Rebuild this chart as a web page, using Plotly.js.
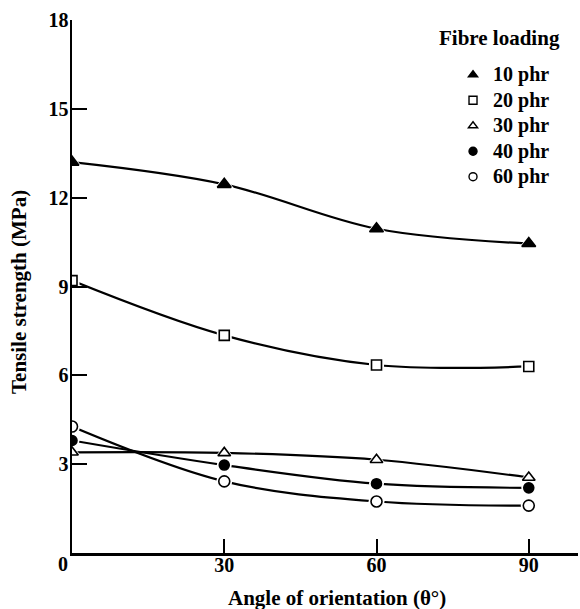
<!DOCTYPE html>
<html><head><meta charset="utf-8">
<script src="https://cdn.plot.ly/plotly-3.0.1.min.js"></script>
<style>html,body{margin:0;padding:0;background:#fff}</style>
</head><body><div id="chart" style="width:580px;height:609px"></div>
<script>
const angles = [0, 30, 60, 90];
const seriesNames = ['10 phr', '20 phr', '30 phr', '40 phr', '60 phr'];
const phr10 = [13.2, 12.45, 10.95, 10.45];
const phr20 = [9.2, 7.35, 6.35, 6.3];
const phr30 = [3.4, 3.38, 3.15, 2.55];
const phr40 = [3.8, 2.97, 2.34, 2.2];
const phr60 = [4.27, 2.42, 1.74, 1.6];
const xTicks = [30, 60, 90];
const yTicks = [3, 6, 9, 12, 15, 18];

const FONT = 'Liberation Serif, Times New Roman, serif';
const values = [phr10, phr20, phr30, phr40, phr60];
const symbols = ['triangle-up', 'square', 'triangle-up', 'circle', 'circle'];
const fills = ['#000', '#fff', '#fff', '#000', '#fff'];
const sizes = [12, 10, 11, 10, 11];

const traces = [];
values.forEach((v, i) => {
  traces.push({x: angles, y: v, mode: 'lines', line: {color: '#000', width: 2.2, shape: 'spline', smoothing: 1},
    showlegend: false, hoverinfo: 'skip'});
});
values.forEach((v, i) => {
  traces.push({x: angles, y: v, mode: 'markers', showlegend: false,
    marker: {symbol: symbols[i], size: sizes[i] + 5, color: '#fff', line: {width: 0}}, hoverinfo: 'skip'});
});
values.forEach((v, i) => {
  traces.push({x: angles, y: v, mode: 'markers', name: seriesNames[i], showlegend: false,
    marker: {symbol: symbols[i], size: sizes[i], color: fills[i], line: {color: '#000', width: 1.6}}});
});
seriesNames.forEach((n, i) => {
  traces.push({x: [null], y: [null], mode: 'markers', name: '<span style="font-size:20px">' + n + '</span>', showlegend: true,
    marker: {symbol: symbols[i], size: 8, color: fills[i], line: {color: '#000', width: 1.4}}});
});

const layout = {
  width: 580, height: 609,
  margin: {l: 72, r: 2, t: 20, b: 56},
  paper_bgcolor: '#fff', plot_bgcolor: '#fff',
  font: {family: FONT, size: 20, color: '#000', weight: 'bold'},
  xaxis: {range: [0, 99.7], tickvals: xTicks, ticktext: xTicks.map(String), ticks: 'inside', ticklen: 14, tickwidth: 2,
    tickcolor: '#000', showline: true, linecolor: '#000', linewidth: 2.5, showgrid: false, zeroline: false,
    ticklabelstandoff: -8,
    tickfont: {family: FONT, size: 20, weight: 'bold'}},
  yaxis: {range: [0, 18], tickvals: yTicks, ticktext: yTicks.map(String), ticks: 'inside', ticklen: 15, tickwidth: 2,
    tickcolor: '#000', showline: true, linecolor: '#000', linewidth: 2.5, showgrid: false, zeroline: false,
    ticklabelstandoff: -3,
    tickfont: {family: FONT, size: 20, weight: 'bold'}},
  legend: {x: 0.753, xanchor: 'left', y: 0.9306, yanchor: 'top', bgcolor: 'rgba(0,0,0,0)', itemwidth: 30,
    font: {family: FONT, size: 17.3, weight: 'bold'}},
  annotations: [
    {text: 'Fibre loading', xref: 'paper', yref: 'paper', x: (437 - 72) / 506, y: 1 - (38 - 20) / 533,
      xanchor: 'left', yanchor: 'middle', showarrow: false, font: {family: FONT, size: 21, weight: 'bold'}},
    {text: '0', xref: 'x', yref: 'paper', x: 0, xshift: -9, y: 0, yshift: 2, yanchor: 'top', showarrow: false,
      font: {family: FONT, size: 20, weight: 'bold'}},
    {text: 'Angle of orientation (θ°)', xref: 'paper', yref: 'paper', x: (337 - 72) / 506, y: 1 - (598 - 20) / 533,
      xanchor: 'center', yanchor: 'middle', showarrow: false, font: {family: FONT, size: 21, weight: 'bold'}},
    {text: 'Tensile strength (MPa)', xref: 'paper', yref: 'paper', x: (19 - 72) / 506, y: 1 - (292 - 20) / 533,
      xanchor: 'center', yanchor: 'middle', textangle: -90, showarrow: false, font: {family: FONT, size: 21, weight: 'bold'}}
  ]
};
Plotly.newPlot('chart', traces, layout, {displayModeBar: false, staticPlot: true});
</script></body></html>
